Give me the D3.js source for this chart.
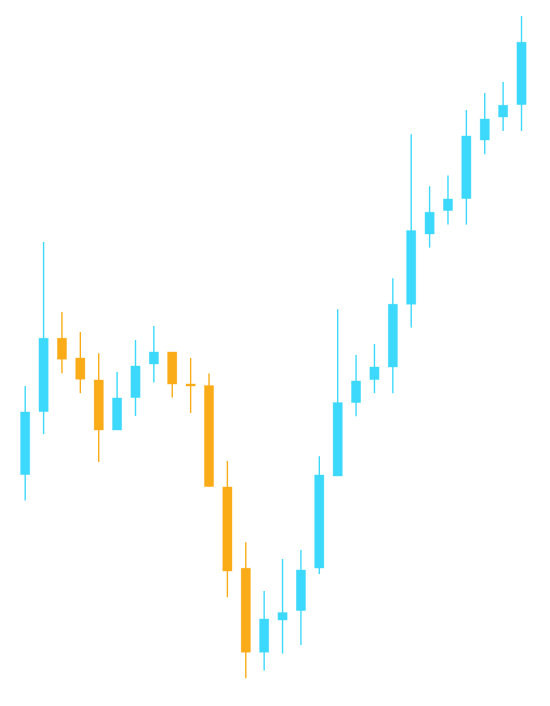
<!DOCTYPE html>
<html>
<head>
<meta charset="utf-8">
<script src="https://cdn.jsdelivr.net/npm/d3@7/dist/d3.min.js"></script>
<style>
html,body{margin:0;padding:0;background:#fff;}
svg{display:block;}
</style>
</head>
<body>
<div id="chart"></div>
<script>
const days = d3.range(1, 29).map(d => "D" + d);
const openVals  = [107.7,139.2,175.9,166,155,130,146.2,163,169,153,152.2,101.5,60.9,18.9,35,39.7,61,107,143.7,155.2,161.5,192.9,228,239.7,245.7,275,286.5,292.7];
const closeVals = [139,175.9,165.4,155.4,130,146,162,169,153,152,101.7,59.5,18.9,35.5,38.7,60,107.5,143.7,154.5,161.5,192.9,229.7,238.9,245.5,277,285.5,292.4,323.9];
const highVals  = [152,224,189,179,168.4,159,175,182,169,166,158.2,114.5,73.9,49.5,65.5,70,116.9,190.4,167.5,173,205.9,277.9,251.9,257.2,290,298.5,304,337];
const lowVals   = [94.7,127.9,158.4,148.4,114,130,137,153.7,146.2,138.5,101.7,46.4,5.9,9.7,18.2,22.5,58,107,136.9,148.4,148.4,181.2,221.2,232.7,232.7,267.9,279.5,279.5];

const W = 550, H = 706;
const upColor = "#3dd9fc", downColor = "#faac18";

const data = days.map((d, i) => ({day: d, open: openVals[i], close: closeVals[i], high: highVals[i], low: lowVals[i]}));

const x = d3.scaleBand().domain(days).range([16, 530.7]).padding(0);
const y = d3.scaleLinear().domain([0, 340]).range([690, 10]);

const svg = d3.select("#chart").append("svg").attr("width", W).attr("height", H);

const g = svg.append("g").selectAll("g").data(data).join("g")
  .attr("transform", d => `translate(${x(d.day) + x.bandwidth() / 2},0)`);

g.append("line")
  .attr("y1", d => y(d.high)).attr("y2", d => y(d.low))
  .attr("stroke", d => d.close >= d.open ? upColor : downColor)
  .attr("stroke-width", 1.4);

const bw = x.bandwidth() * 0.5;
g.append("rect")
  .attr("x", -bw / 2)
  .attr("width", bw)
  .attr("y", d => y(Math.max(d.open, d.close)))
  .attr("height", d => Math.max(1.5, Math.abs(y(d.open) - y(d.close))))
  .attr("fill", d => d.close >= d.open ? upColor : downColor)
  .attr("stroke", d => d.close >= d.open ? upColor : downColor)
  .attr("stroke-opacity", 0.6)
  .attr("stroke-width", 0.6);
</script>
</body>
</html>
